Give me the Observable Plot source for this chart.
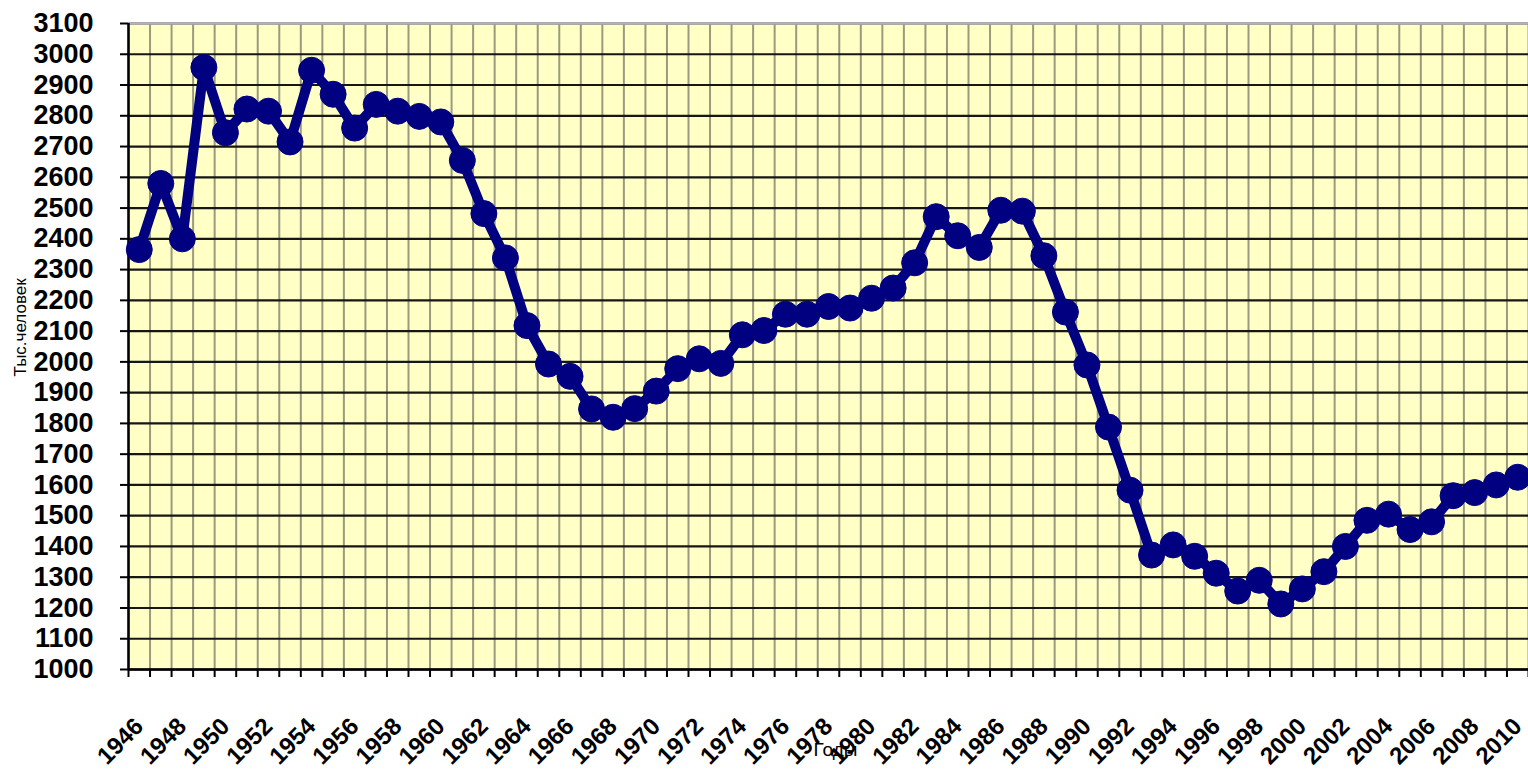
<!DOCTYPE html>
<html>
<head>
<meta charset="utf-8">
<script src="https://cdn.jsdelivr.net/npm/d3@7"></script>
<script src="https://cdn.jsdelivr.net/npm/@observablehq/plot@0.6"></script>
<style>
  html, body { margin: 0; padding: 0; background: #ffffff; }
  #chart svg { display: block; }
</style>
</head>
<body>
<div id="chart"></div>
<script>
const years = d3.range(1946, 2011);
const values = [
  2365, 2580, 2400, 2957, 2745, 2822, 2815, 2715, 2948, 2870,
  2760, 2837, 2815, 2798, 2780, 2655, 2482, 2338, 2118, 1993,
  1953, 1847, 1820, 1848, 1905, 1978, 2010, 1995, 2088, 2102,
  2155, 2155, 2180, 2175, 2207, 2240, 2322, 2472, 2410, 2372,
  2493, 2490, 2345, 2162, 1990, 1788, 1583, 1372, 1405, 1368,
  1313, 1255, 1290, 1213, 1262, 1318, 1400, 1485, 1505, 1455,
  1480, 1565, 1575, 1600, 1625
];
const yTicks = d3.range(1000, 3101, 100);
const xLabelYears = years.filter(d => d % 2 === 0);
const yTitle = "Тыс.человек";
const xTitle = "Годы";

const data = years.map((year, i) => ({year, value: values[i]}));
const boundaries = years.map(d => d - 0.5).concat([years[years.length - 1] + 0.5]);

const font = "'Liberation Sans', Arial, sans-serif";

const chart = Plot.plot({
  width: 1528,
  height: 769,
  marginLeft: 128,
  marginRight: 0,
  marginTop: 23,
  marginBottom: 100,
  style: {fontFamily: font, background: "#ffffff", color: "#000", overflow: "hidden"},
  x: {type: "linear", domain: [boundaries[0], boundaries[boundaries.length - 1]], axis: null},
  y: {domain: [1000, 3100], axis: null},
  marks: [
    Plot.frame({fill: "#FFFFC6", stroke: null}),
    Plot.ruleX(boundaries, {stroke: "#9a9a80", strokeWidth: 2}),
    Plot.ruleY(yTicks, {stroke: "#161616", strokeWidth: 2.2}),
    Plot.ruleY([3100], {stroke: "#b4b4b4", strokeWidth: 2.5}),
    Plot.ruleX([boundaries[0]], {stroke: "#000", strokeWidth: 2.5}),
    Plot.ruleY([1000], {stroke: "#000", strokeWidth: 2.5}),
    Plot.axisY({
      ticks: yTicks, tickSize: 8, tickPadding: 27, tickFormat: d => String(d),
      fontSize: 27, fontWeight: "bold", label: null, strokeWidth: 2
    }),
    Plot.axisX({
      ticks: boundaries, tickSize: 8, tickFormat: () => "", label: null, strokeWidth: 2
    }),
    Plot.axisX({
      ticks: xLabelYears, tickSize: 0, tickPadding: 53, tickRotate: -45,
      tickFormat: d => String(d), fontSize: 24, fontWeight: "bold", label: null
    }),
    Plot.line(data, {x: "year", y: "value", stroke: "#000080", strokeWidth: 10, strokeLinejoin: "round"}),
    Plot.dot(data, {x: "year", y: "value", r: 13, fill: "#000080", stroke: "#000080", strokeWidth: 1}),
    Plot.text([yTitle], {
      text: d => d, frameAnchor: "left", dx: -108, dy: 30, rotate: -90,
      fontSize: 17, fill: "#000", fontFamily: font
    }),
    Plot.text([xTitle], {
      text: d => d, frameAnchor: "bottom", dx: 7, dy: 86,
      fontSize: 19, fill: "#000", fontFamily: font, style: "letter-spacing:1px"
    })
  ]
});
document.getElementById("chart").appendChild(chart);
</script>
</body>
</html>
